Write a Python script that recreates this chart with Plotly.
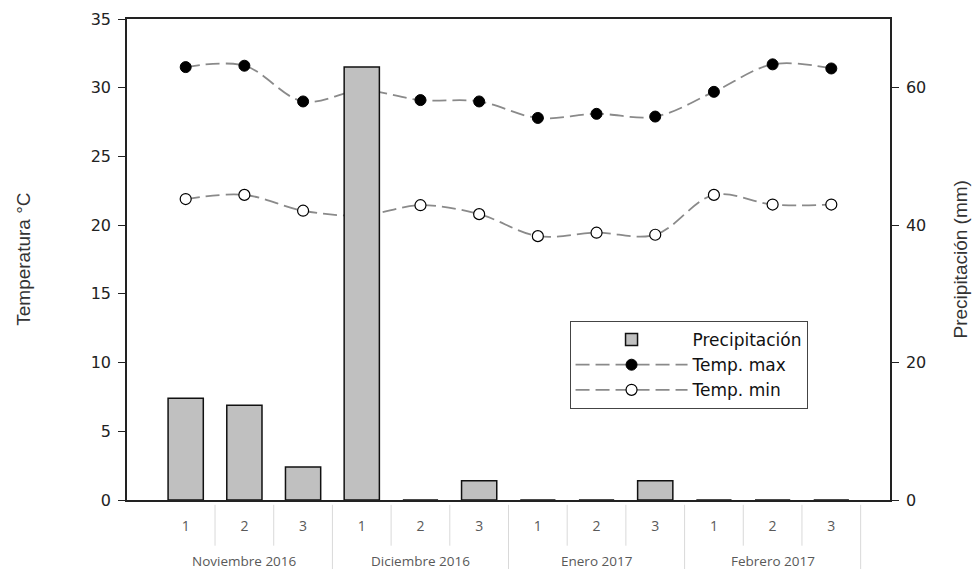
import plotly.graph_objects as go

# ---- data ----
x_pos = [1, 2, 3, 4, 5, 6, 7, 8, 9, 10, 11, 12]
decadas = ["1", "2", "3", "1", "2", "3", "1", "2", "3", "1", "2", "3"]
meses = ["Noviembre 2016", "Diciembre 2016", "Enero 2017", "Febrero 2017"]
mes_centro = [2, 5, 8, 11]
precipitacion = [14.8, 13.8, 4.8, 63.0, 0, 2.8, 0, 0, 2.8, 0, 0, 0]
temp_max = [31.5, 31.6, 29.0, 29.8, 29.1, 29.0, 27.8, 28.1, 27.9, 29.7, 31.7, 31.4]
temp_min = [21.9, 22.2, 21.05, 20.7, 21.45, 20.8, 19.2, 19.45, 19.3, 22.2, 21.5, 21.5]

sep_cortos = [1.5, 2.5, 4.5, 5.5, 7.5, 8.5, 10.5, 11.5]
sep_largos = [3.5, 6.5, 9.5, 12.5]

fig = go.Figure()

fig.add_trace(go.Bar(
    x=x_pos, y=precipitacion, name="Precipitación", yaxis="y2",
    width=0.6, marker=dict(color="#c0c0c0", line=dict(color="#111111", width=1.5)),
))
fig.add_trace(go.Scatter(
    x=x_pos, y=temp_max, name="Temp. max", mode="lines+markers",
    line=dict(color="#8a8a8a", width=1.8, dash="14px,6px", shape="spline", smoothing=1.0),
    marker=dict(symbol="circle", size=11, color="#000000", line=dict(color="#000000", width=1)),
))
fig.add_trace(go.Scatter(
    x=x_pos, y=temp_min, name="Temp. min", mode="lines+markers",
    line=dict(color="#8a8a8a", width=1.8, dash="14px,6px", shape="spline", smoothing=1.0),
    marker=dict(symbol="circle", size=11, color="#ffffff", line=dict(color="#000000", width=1.2)),
))

tick_font = dict(family="DejaVu Sans, sans-serif", size=16, color="#222222")
title_font = dict(family="Liberation Sans, Arial, sans-serif", size=19, color="#333333")

fig.update_layout(
    width=964, height=561,
    margin=dict(l=119, r=82, t=11, b=69, autoexpand=False),
    paper_bgcolor="white", plot_bgcolor="white",
    barmode="overlay",
    xaxis=dict(
        range=[0, 13], tickvals=x_pos, ticktext=decadas, ticks="", automargin=False,
        showline=True, linecolor="#222222", linewidth=1.8, mirror=True,
        showgrid=False, zeroline=False, ticklabelstandoff=12,
        tickfont=dict(family="Open Sans, sans-serif", size=14, color="#595959"),
    ),
    yaxis=dict(
        range=[0, 35], tickvals=[0, 5, 10, 15, 20, 25, 30, 35], automargin=False,
        ticks="outside", ticklen=7, tickcolor="#222222", tickwidth=1.2,
        showline=True, linecolor="#222222", linewidth=1.5,
        showgrid=False, zeroline=False, tickfont=tick_font, ticklabelstandoff=4,
    ),
    yaxis2=dict(
        range=[0, 70], tickvals=[0, 20, 40, 60], overlaying="y", side="right", automargin=False,
        ticks="outside", ticklen=7, tickcolor="#222222", tickwidth=1.2,
        showline=True, linecolor="#222222", linewidth=1.5,
        showgrid=False, zeroline=False, tickfont=tick_font, ticklabelstandoff=4,
    ),
    legend=dict(
        x=0.58, y=0.372, xanchor="left", yanchor="top",
        bordercolor="#444444", borderwidth=1, bgcolor="white",
        font=dict(family="DejaVu Sans, sans-serif", size=17, color="#111111"),
        itemwidth=112, tracegroupgap=0,
    ),
    showlegend=True,
)

# axis titles
fig.add_annotation(text="Temperatura °C", xref="paper", yref="paper", x=-0.136, y=0.5,
                   textangle=-90, showarrow=False, xanchor="center", yanchor="middle",
                   font=title_font)
fig.add_annotation(text="Precipitación (mm)", xref="paper", yref="paper", x=1.093, y=0.5,
                   textangle=-90, showarrow=False, xanchor="center", yanchor="middle",
                   font=title_font)

# month labels
for m, c in zip(meses, mes_centro):
    fig.add_annotation(text=m, x=c, xref="x", y=-0.126, yref="paper", showarrow=False,
                       yanchor="middle",
                       font=dict(family="Open Sans, sans-serif", size=13.5, color="#595959"))

# category separators
for s in sep_cortos:
    fig.add_shape(type="line", xref="x", yref="paper", x0=s, x1=s, y0=-0.01, y1=-0.095,
                  line=dict(color="#d9d9d9", width=1))
for s in sep_largos:
    fig.add_shape(type="line", xref="x", yref="paper", x0=s, x1=s, y0=-0.01, y1=-0.16,
                  line=dict(color="#d9d9d9", width=1))

fig.write_html("out.html")
